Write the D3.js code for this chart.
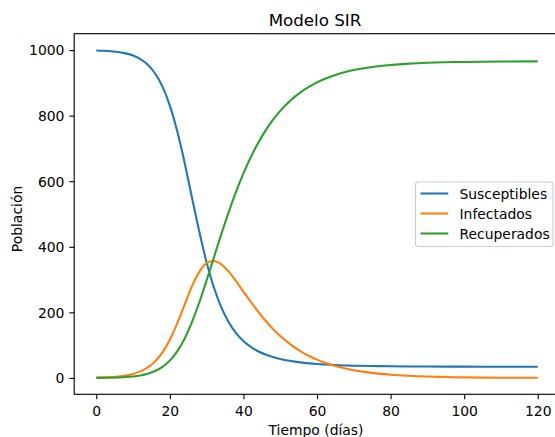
<!DOCTYPE html>
<html>
<head>
<meta charset="utf-8">
<script src="https://cdn.jsdelivr.net/npm/d3@7"></script>
<style>
  html, body { margin: 0; padding: 0; background: #fff; }
  svg { display: block; font-family: "DejaVu Sans", sans-serif; }
</style>
</head>
<body>
<svg id="chart" width="555" height="437"></svg>
<script>
// ---- data ----
const days = [0,2,4,6,8,10,12,14,16,18,20,22,24,26,28,30,32,34,36,38,40,42,44,46,48,50,52,54,56,58,60,62,64,66,68,70,75,80,85,90,95,100,110,120];
const susceptibles = [999,998.1,996.6,994.1,990.0,983.3,972.5,955.4,928.7,888.6,830.8,752.9,657.3,550.7,446.5,352.2,275.0,215.0,170.0,136.9,112.5,94.6,81.3,71.3,63.6,57.7,53.2,49.6,46.7,44.4,42.6,41.1,39.9,38.8,38.0,37.3,36.1,35.5,35.0,34.7,34.5,34.4,34.2,34.1];
const infectados = [1,1.6,2.7,4.5,7.4,12.2,19.9,31.8,50.4,77.9,116.5,166.3,223.1,279.2,323.4,349.9,356.5,346.1,324.1,295.1,263.5,232.1,201.9,174.5,149.6,127.7,109.0,92.3,78.2,66.1,55.8,47.1,39.7,33.4,28.1,23.6,15.3,9.9,6.4,4.1,2.7,1.7,0.7,0.3];
const recuperados = [0,0.3,0.7,1.4,2.6,4.5,7.6,12.8,20.9,33.5,52.7,80.8,119.6,170.1,230.1,297.9,368.5,438.9,505.9,568.0,624.0,673.3,716.8,754.2,786.8,814.6,837.8,858.1,875.1,889.4,901.6,911.8,920.4,927.8,933.9,939.0,948.6,954.6,958.6,961.2,962.9,963.9,965.1,965.6];
const seriesNames = ["Susceptibles", "Infectados", "Recuperados"];
const seriesColors = ["#1f77b4", "#ff7f0e", "#2ca02c"];
const xTicks = [0,20,40,60,80,100,120];
const yTicks = [0,200,400,600,800,1000];
const title = "Modelo SIR";
const xLabel = "Tiempo (días)";
const yLabel = "Población";

// ---- layout ----
const axLeft = 74.2, axRight = 559.8, axTop = 33.7, axBottom = 394.3;
const svg = d3.select("#chart");

const x = d3.scaleLinear().domain([-6, 126]).range([axLeft, axRight]);
const y = d3.scaleLinear().domain([-50, 1050]).range([axBottom, axTop]);

const seriesValues = [susceptibles, infectados, recuperados];

// lines
const line = d3.line().curve(d3.curveMonotoneX);
const plot = svg.append("g");
seriesValues.forEach((vals, k) => {
  plot.append("path")
    .attr("d", line(days.map((d, i) => [x(d), y(vals[i])])))
    .attr("fill", "none")
    .attr("stroke", seriesColors[k])
    .attr("stroke-width", 2.08)
    .attr("stroke-linejoin", "round")
    .attr("stroke-linecap", "butt");
});

// axes
const fmt = d3.format("d");
const xAxis = d3.axisBottom(x).tickValues(xTicks).tickFormat(fmt).tickSize(4.86).tickPadding(4.9).tickSizeOuter(0);
const yAxis = d3.axisLeft(y).tickValues(yTicks).tickFormat(fmt).tickSize(4.86).tickPadding(4.9).tickSizeOuter(0);

const gx = svg.append("g").attr("transform", `translate(0,${axBottom})`).call(xAxis);
const gy = svg.append("g").attr("transform", `translate(${axLeft},0)`).call(yAxis);
[gx, gy].forEach(g => {
  g.select(".domain").remove();
  g.selectAll(".tick line").attr("stroke", "#000").attr("stroke-width", 1.11);
  g.selectAll(".tick text").attr("fill", "#000").attr("font-size", "13.9px")
    .attr("font-family", "DejaVu Sans, sans-serif");
});
gx.selectAll(".tick text").attr("dy", null).attr("y", 21.7);
gy.selectAll(".tick text").attr("dy", "0.35em");

// spines
svg.append("rect")
  .attr("x", axLeft).attr("y", axTop)
  .attr("width", axRight - axLeft).attr("height", axBottom - axTop)
  .attr("fill", "none").attr("stroke", "#000").attr("stroke-width", 1.11);

// title and labels
const cx = (axLeft + axRight) / 2;
svg.append("text").attr("x", cx - 2).attr("y", 25.5)
  .attr("text-anchor", "middle").attr("font-size", "16.7px").attr("fill", "#000")
  .text(title);
svg.append("text").attr("x", cx - 1).attr("y", 434.5)
  .attr("text-anchor", "middle").attr("font-size", "13.9px").attr("fill", "#000")
  .text(xLabel);
svg.append("text")
  .attr("transform", `translate(22,219) rotate(-90)`)
  .attr("text-anchor", "middle").attr("font-size", "13.9px").attr("fill", "#000")
  .text(yLabel);

// legend
const lg = svg.append("g");
lg.append("rect")
  .attr("x", 415.5).attr("y", 182).attr("width", 137.5).attr("height", 64.5)
  .attr("rx", 2.8).attr("ry", 2.8)
  .attr("fill", "#fff").attr("fill-opacity", 0.8)
  .attr("stroke", "#cccccc").attr("stroke-width", 1.11);
seriesNames.forEach((name, k) => {
  const yy = 193.5 + k * 20;
  lg.append("line").attr("x1", 420.5).attr("x2", 448.3).attr("y1", yy).attr("y2", yy)
    .attr("stroke", seriesColors[k]).attr("stroke-width", 2.08);
  lg.append("text").attr("x", 459.5).attr("y", yy + 5)
    .attr("font-size", "13.9px").attr("fill", "#000").text(name);
});
</script>
</body>
</html>
